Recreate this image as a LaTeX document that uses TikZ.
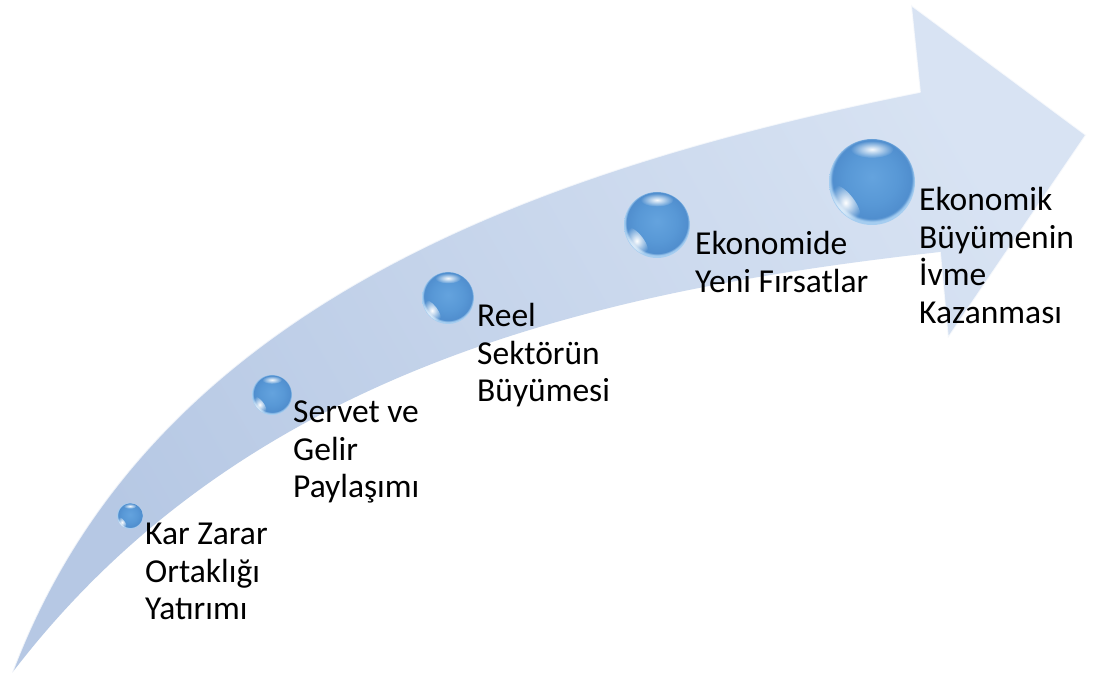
\documentclass[tikz,border=0pt]{standalone}
\usepackage{fontspec}
\setmainfont{Carlito}
\usetikzlibrary{fadings}
\definecolor{arrowdark}{RGB}{182,200,228}
\definecolor{arrowlight}{RGB}{216,227,243}
\definecolor{ballA}{RGB}{100,163,222}
\definecolor{ballB}{RGB}{88,152,214}
\definecolor{ballC}{RGB}{80,142,206}
\definecolor{ballRim}{RGB}{165,205,240}
\pgfdeclareradialshading{glossball}{\pgfpoint{0bp}{3bp}}{%
  color(0bp)=(ballA); color(15bp)=(ballB); color(23bp)=(ballC);
  color(24.6bp)=(ballRim); color(50bp)=(ballRim)}
\tikzfading[name=softspot, inner color=transparent!0, outer color=transparent!100]
\tikzset{
  ball/.style={circle, inner sep=0pt, shading=glossball},
  gloss/.style={white, path fading=softspot},
  label/.style={anchor=base west, inner sep=0pt, align=left,
    font=\fontsize{33.5pt}{37.5pt}\selectfont, text=black}
}
% glossy sphere: name, x, y, radius
\newcommand\glossball[4]{%
  \node[ball, minimum size={2*#4 pt}] (#1) at (#2,#3) {};
  \begin{scope}[shift={(#2,#3)}]
    \fill[gloss, opacity=0.95] (0,{0.76*#4}) ellipse ({0.5*#4 pt} and {0.2*#4 pt});
    \fill[gloss, opacity=1, rotate=218] ({0.78*#4},0) ellipse ({0.2*#4 pt} and {0.5*#4 pt});
  \end{scope}}
\begin{document}
\begin{tikzpicture}[x=1pt, y=1pt]
  \useasboundingbox (0,0) rectangle (1094,679);
  \fill[white] (0,0) rectangle (1094,679);
  % curved arrow body
  \shade[bottom color=arrowdark, top color=arrowlight, shading angle=-60]
    (12,6) .. controls (147,366) and (520,507) .. (920,587)
    -- (911,674) -- (1086,544) -- (948,341) -- (940,427)
    .. controls (600,389) and (245,311) .. (12,6) -- cycle;
  \draw[white, opacity=0.75, line width=1.6pt, line join=round]
    (12,6) .. controls (147,366) and (520,507) .. (920,587)
    -- (911,674) -- (1086,544) -- (948,341) -- (940,427);
  % spheres
  \glossball{b1}{130}{163}{13}
  \glossball{b2}{272}{284}{20}
  \glossball{b3}{448}{381}{26}
  \glossball{b4}{657}{454}{33}
  \glossball{b5}{872}{497}{43}
  % labels (base anchor sits on the last line)
  \node[label] (t1) at (145,59) {Kar Zarar\\Ortaklığı\\Yatırımı};
  \node[label] (t2) at (293,181) {Servet ve\\Gelir\\Paylaşımı};
  \node[label] (t3) at (477,277) {Reel\\Sektörün\\Büyümesi};
  \node[label] (t4) at (695,386.5) {Ekonomide\\Yeni Fırsatlar};
  \node[label] (t5) at (919,355.5) {Ekonomik\\Büyümenin\\İvme\\Kazanması};
\end{tikzpicture}
\end{document}
